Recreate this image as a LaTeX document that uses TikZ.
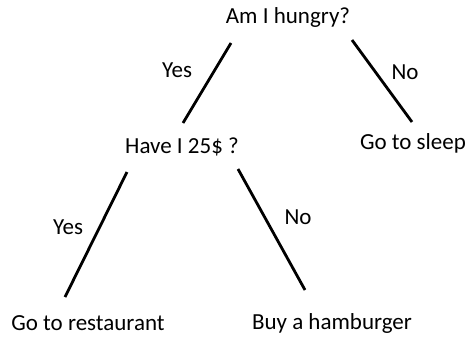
\documentclass[tikz,border=0pt]{standalone}
\usepackage{fontspec}
\setmainfont{Carlito}
\usepackage{tikz}
\usetikzlibrary{calc,positioning}
\tikzset{
  question/.style={inner sep=0pt, font=\fontsize{23}{27}\selectfont},
  answer/.style={inner sep=0pt, font=\fontsize{23}{27}\selectfont},
  edgelabel/.style={inner sep=0pt, font=\fontsize{23}{27}\selectfont},
  branch/.style={draw=black, line width=2.8pt}
}
\begin{document}
\begin{tikzpicture}[x=1pt,y=-1pt]
  \useasboundingbox (0,0) rectangle (470,340);
  % questions and answers
  \node[question] (hungry) at (288,17) {Am I hungry?};
  \node[question] (money) at (182,147) {Have I 25\$ ?};
  \node[answer] (sleep) at (413,143) {Go to sleep};
  \node[answer] (restaurant) at (88,323) {Go to restaurant};
  \node[answer] (burger) at (332,323) {Buy a hamburger};
  % branches
  \coordinate (h1) at ($(hungry)+(-57,26)$);
  \coordinate (h2) at ($(hungry)+(64,23)$);
  \coordinate (m0) at ($(money)+(1,-24)$);
  \coordinate (s0) at ($(sleep)+(-1,-21)$);
  \coordinate (m1) at ($(money)+(-55,25)$);
  \coordinate (m2) at ($(money)+(56,22)$);
  \coordinate (r0) at ($(restaurant)+(-23,-26)$);
  \coordinate (b0) at ($(burger)+(-27,-33)$);
  \draw[branch] (h1) -- (m0);
  \draw[branch] (h2) -- (s0);
  \draw[branch] (m1) -- (r0);
  \draw[branch] (m2) -- (b0);
  % labels
  \node[edgelabel] (yesA) at (177,70) {Yes};
  \node[edgelabel] (noA) at (405,72) {No};
  \node[edgelabel] (yesB) at (68,227) {Yes};
  \node[edgelabel] (noB) at (298,217) {No};
\end{tikzpicture}
\end{document}
